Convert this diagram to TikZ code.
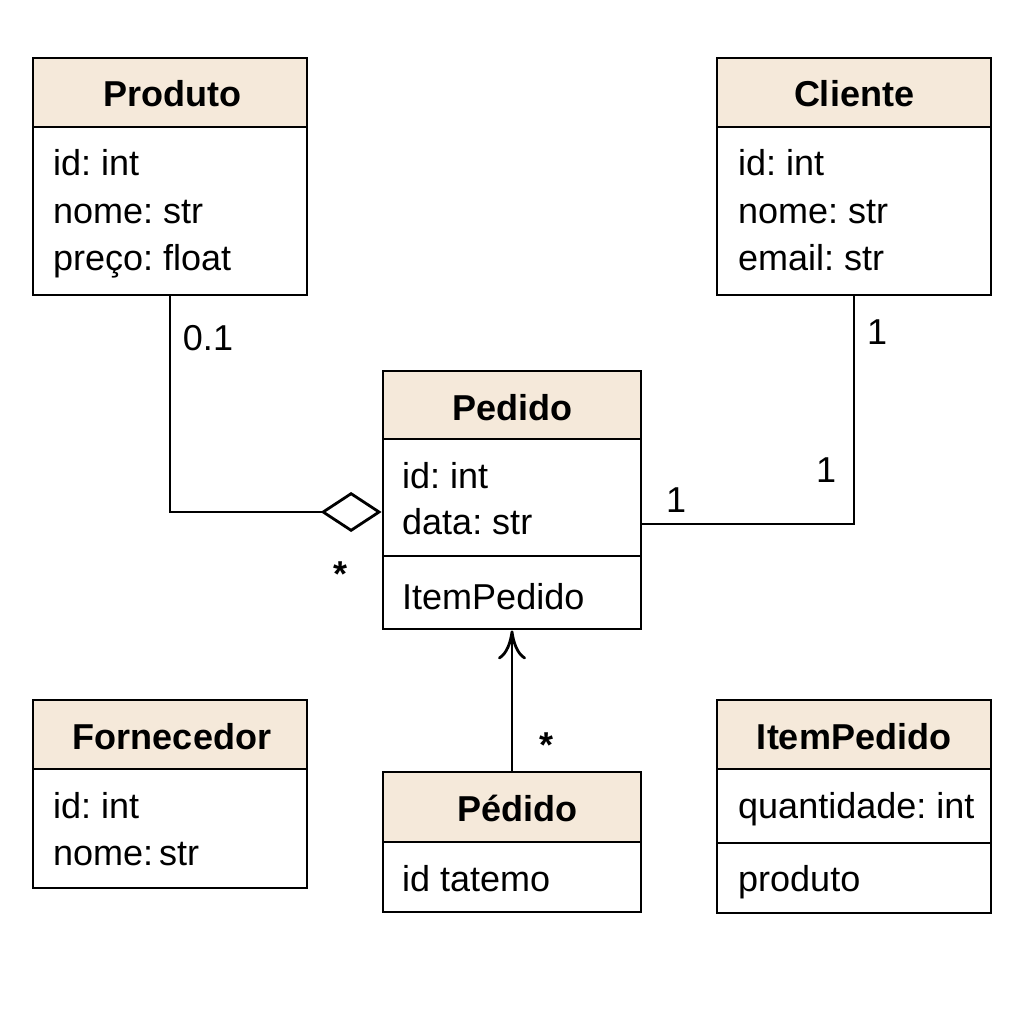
\documentclass[tikz,border=0pt]{standalone}
\usepackage{fontspec}
\setmainfont{Liberation Sans}
\usetikzlibrary{arrows.meta}
\frenchspacing
\definecolor{hdr}{HTML}{F5E9DA}
\tikzset{
  box/.style={draw=black, line width=2.8pt, inner sep=0pt, rectangle},
  hbox/.style={box, fill=hdr},
  bbox/.style={box, fill=white},
  title/.style={inner sep=0pt, anchor=base, font=\fontsize{36}{43}\selectfont\bfseries},
  attr/.style={inner sep=0pt, anchor=base west, font=\fontsize{36}{43}\selectfont},
  lbl/.style={inner sep=0pt, font=\fontsize{36}{43}\selectfont},
  conn/.style={draw=black, line width=2.8pt},
}
\begin{document}
\begin{tikzpicture}[x=1pt,y=-1pt]
\useasboundingbox (0,0) rectangle (1024,1024);
\fill[white] (0,0) rectangle (1024,1024);

% Produto
\node[hbox, minimum width=274pt, minimum height=69pt] (prodH) at (170,92.5) {};
\node[bbox, minimum width=274pt, minimum height=168pt] (prodB) at (170,211) {};
\node[title] (prodT) at (172,107) {Produto};
\node[attr] (prod1) at (53,176) {id: int};
\node[attr] (prod2) at (53,223) {nome: str};
\node[attr] (prod3) at (53,270) {preço: float};

% Cliente
\node[hbox, minimum width=274pt, minimum height=69pt] (cliH) at (854,92.5) {};
\node[bbox, minimum width=274pt, minimum height=168pt] (cliB) at (854,211) {};
\node[title] (cliT) at (854,107) {Cliente};
\node[attr] (cli1) at (738,176) {id: int};
\node[attr] (cli2) at (738,223) {nome: str};
\node[attr] (cli3) at (738,270) {email: str};

% Pedido
\node[hbox, minimum width=258pt, minimum height=68pt] (pedH) at (512,405) {};
\node[bbox, minimum width=258pt, minimum height=117pt] (pedA) at (512,497.5) {};
\node[bbox, minimum width=258pt, minimum height=73pt] (pedM) at (512,592.5) {};
\node[title] (pedT) at (512,420) {Pedido};
\node[attr] (ped1) at (402,488) {id: int};
\node[attr] (ped2) at (402,534) {data: str};
\node[attr] (ped3) at (402,609) {ItemPedido};

% Fornecedor
\node[hbox, minimum width=274pt, minimum height=69pt] (forH) at (170,734.5) {};
\node[bbox, minimum width=274pt, minimum height=119pt] (forB) at (170,828.5) {};
\node[title] (forT) at (172,749) {Fornecedor};
\node[attr] (for1) at (53,818) {id: int};
\node[attr] (for2) at (53,865) {nome:\,str};

% Pédido
\node[hbox, minimum width=258pt, minimum height=70pt] (pdH) at (512,807) {};
\node[bbox, minimum width=258pt, minimum height=70pt] (pdB) at (512,877) {};
\node[title] (pdT) at (517,821) {Pédido};
\node[attr] (pd1) at (402,891) {id tatemo};

% ItemPedido
\node[hbox, minimum width=274pt, minimum height=69pt] (itH) at (854,734.5) {};
\node[bbox, minimum width=274pt, minimum height=74pt] (itA) at (854,806) {};
\node[bbox, minimum width=274pt, minimum height=70pt] (itM) at (854,878) {};
\node[title] (itT) at (854,749) {ItemPedido};
\node[attr] (it1) at (738,818) {quantidade: int};
\node[attr] (it2) at (738,891) {produto};

% Connectors
\coordinate (aggEnd) at (pedA.west |- 0,512);
\draw[conn, {Diamond[open, length=61pt, width=40pt, line width=2.8pt]}-] (aggEnd) -| (prodB.south);
\coordinate (asEnd) at (pedA.east |- 0,524);
\draw[conn] (cliB.south) |- (asEnd);
\draw[conn, -{Computer Modern Rightarrow[length=29pt, width=28pt, line width=2.8pt]}] (pdH.north) -- (pedM.south);

% Labels
\node[lbl] (l01) at (208,338) {0.1};
\node[lbl, font=\fontsize{36}{43}\selectfont\bfseries] (lst1) at (340,574) {*};
\node[lbl] (l1a) at (877,332) {1};
\node[lbl] (l1b) at (826,470) {1};
\node[lbl] (l1c) at (676,500) {1};
\node[lbl, font=\fontsize{36}{43}\selectfont\bfseries] (lst2) at (546,745) {*};
\end{tikzpicture}
\end{document}
